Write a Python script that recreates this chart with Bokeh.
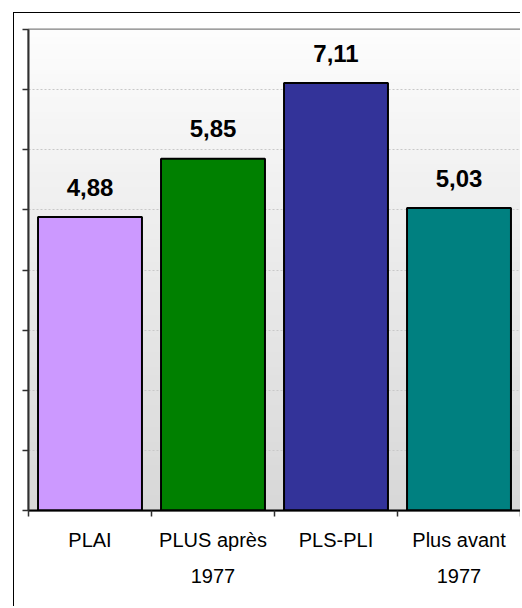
import numpy as np
from bokeh.plotting import figure
from bokeh.models import FixedTicker, Range1d
from bokeh.core.properties import value
from bokeh.embed import file_html
from bokeh.resources import INLINE

# ---- data ----
categories = ["PLAI", "PLUS après\n1977", "PLS-PLI", "Plus avant\n1977"]
values = [4.88, 5.85, 7.11, 5.03]
value_labels = ["4,88", "5,85", "7,11", "5,03"]
colors = ["#cc99ff", "#008000", "#333399", "#008080"]
y_ticks = [0, 1, 2, 3, 4, 5, 6, 7, 8]

n = len(categories)
xs = [i + 0.5 for i in range(n)]

p = figure(width=507, height=594, output_backend="svg", toolbar_location=None,
           x_range=Range1d(0, n), y_range=Range1d(0, 8),
           min_border_left=14, min_border_top=16, min_border_right=1, min_border_bottom=97)
p.background_fill_color = "white"
p.border_fill_color = "white"
p.margin = (12, 0, 0, 13)
p.styles = {"border-left": "1.5px solid black", "border-top": "1.5px solid black"}

# gradient background of plot area
N = 64
top_c = np.array([253, 253, 253])
bot_c = np.array([216, 216, 216])
img = np.zeros((N, 1), dtype=np.uint32)
view = img.view(dtype=np.uint8).reshape((N, 1, 4))
for i in range(N):
    t = i / (N - 1)
    c = bot_c + (top_c - bot_c) * t
    view[i, 0, 0:3] = c.astype(np.uint8)
    view[i, 0, 3] = 255
p.image_rgba(image=[img], x=0, y=0, dw=n, dh=8, level="image")

# bars
p.vbar(x=xs, top=values, width=0.845, fill_color=colors, line_color="black", line_width=2)

# value labels
p.text(x=xs, y=values, text=value_labels, text_align="center", text_baseline="alphabetic",
       y_offset=-30, text_font=value("Liberation Sans"), text_font_style="bold",
       text_font_size="24px", text_color="black")

# grid
p.xgrid.visible = False
p.ygrid.ticker = FixedTicker(ticks=y_ticks[1:-1])
p.ygrid.grid_line_color = "#c8c8c8"
p.ygrid.grid_line_dash = "2 2"
p.ygrid.grid_line_width = 1

# outline
p.outline_line_color = "#808080"
p.outline_line_width = 2

# y axis: ticks only, no labels
p.yaxis.ticker = FixedTicker(ticks=[], minor_ticks=y_ticks)
p.yaxis.major_tick_line_color = None
p.yaxis.minor_tick_out = 6
p.yaxis.minor_tick_in = 0
p.yaxis.minor_tick_line_color = "#303030"
p.yaxis.minor_tick_line_width = 1.5
p.yaxis.axis_line_color = "#303030"
p.yaxis.axis_line_width = 2

# x axis
p.xaxis.ticker = FixedTicker(ticks=xs, minor_ticks=list(range(n + 1)))
p.xaxis.major_label_overrides = {x: c for x, c in zip(xs, categories)}
p.xaxis.major_tick_line_color = None
p.xaxis.major_tick_out = 0
p.xaxis.major_tick_in = 0
p.xaxis.minor_tick_out = 6
p.xaxis.minor_tick_in = 0
p.xaxis.minor_tick_line_color = "#303030"
p.xaxis.minor_tick_line_width = 1.5
p.xaxis.axis_line_color = "black"
p.xaxis.axis_line_width = 2
p.xaxis.major_label_text_font = "Liberation Sans"
p.xaxis.major_label_text_font_size = "20px"
p.xaxis.major_label_text_color = "black"
p.xaxis.major_label_text_line_height = 1.65
p.xaxis.major_label_standoff = 12
p.xaxis.major_label_orientation = "horizontal"

open("out.html", "w").write(file_html(p, INLINE))
